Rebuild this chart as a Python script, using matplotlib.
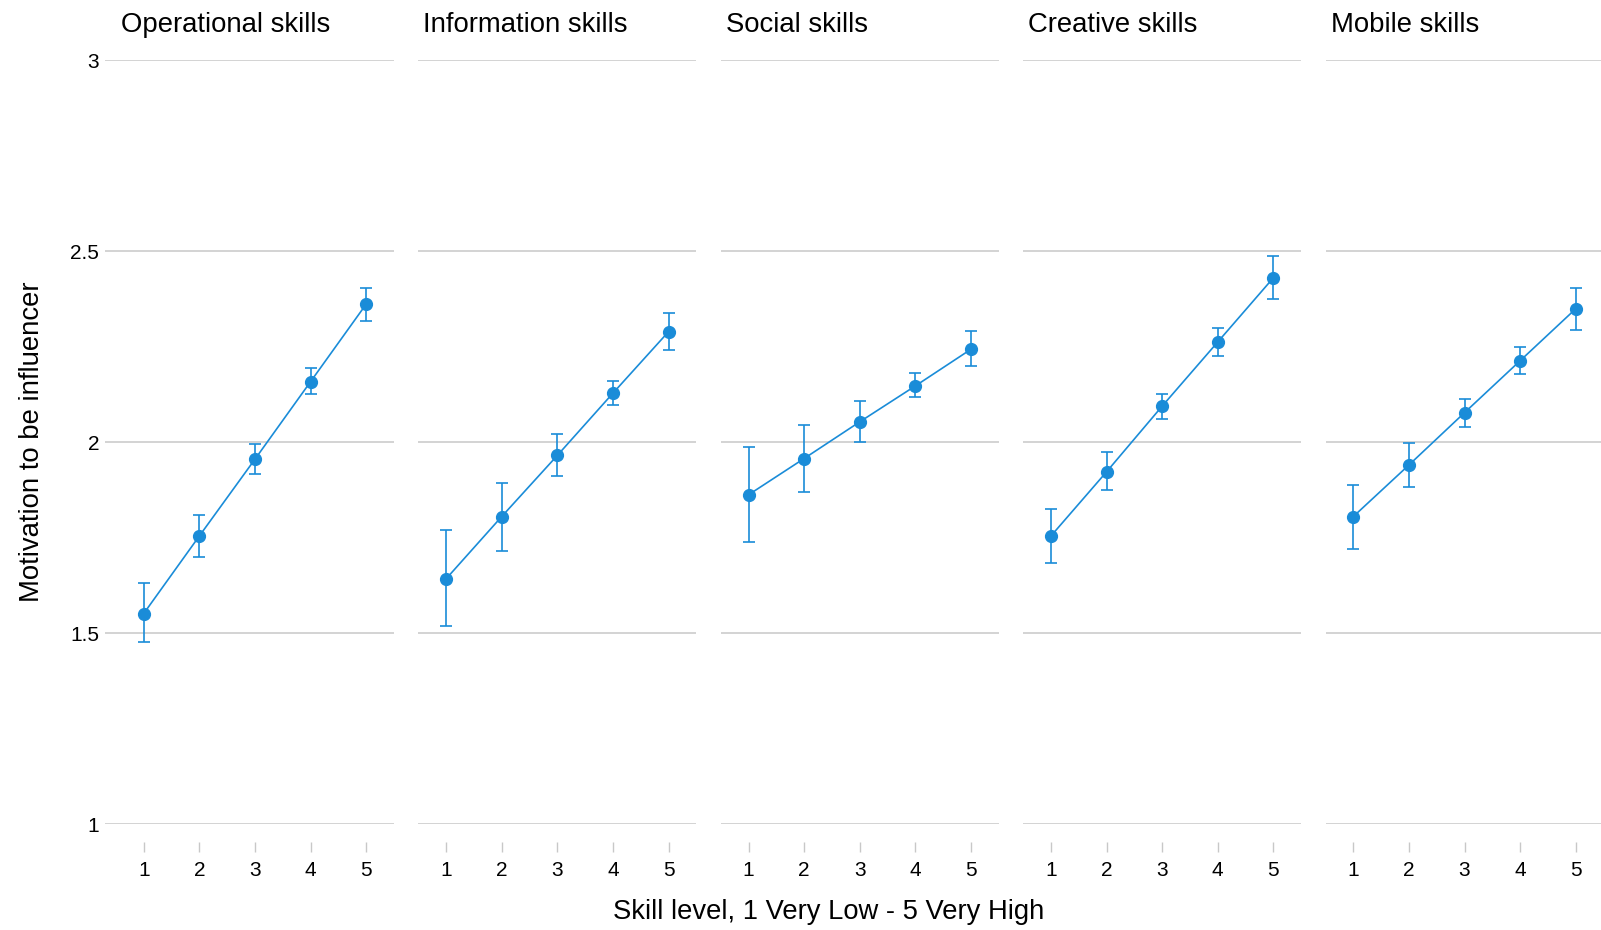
import matplotlib
matplotlib.use("Agg")
import matplotlib.pyplot as plt
import matplotlib.transforms as mtransforms

plt.rcParams['font.family'] = ['Liberation Sans', 'DejaVu Sans']

panels = ["Operational skills", "Information skills", "Social skills",
          "Creative skills", "Mobile skills"]
levels = [1, 2, 3, 4, 5]
means = [
    [1.551, 1.754, 1.955, 2.158, 2.361],
    [1.642, 1.805, 1.965, 2.128, 2.289],
    [1.862, 1.957, 2.053, 2.147, 2.243],
    [1.754, 1.922, 2.094, 2.262, 2.430],
    [1.805, 1.940, 2.077, 2.213, 2.349],
]
lower = [
    [1.476, 1.698, 1.917, 2.126, 2.316],
    [1.519, 1.714, 1.912, 2.096, 2.241],
    [1.738, 1.869, 2.000, 2.118, 2.198],
    [1.684, 1.874, 2.061, 2.225, 2.374],
    [1.721, 1.883, 2.040, 2.178, 2.294],
]
upper = [
    [1.631, 1.810, 1.995, 2.193, 2.404],
    [1.770, 1.893, 2.021, 2.160, 2.337],
    [1.986, 2.045, 2.107, 2.182, 2.291],
    [1.826, 1.973, 2.126, 2.299, 2.487],
    [1.888, 1.998, 2.114, 2.249, 2.403],
]
yticks = [1, 1.5, 2, 2.5, 3]
ytick_labels = ["1", "1.5", "2", "2.5", "3"]

W, H = 1601, 930
fig = plt.figure(figsize=(W / 100, H / 100), dpi=100)

blue = "#1a8cd8"
grid_c = "#d0d0d0"
unit = 55.6
x1_first = 143.7
period = 302.4
y_top = 60.2
y_bot = 824.0

for i, name in enumerate(panels):
    x1 = x1_first + period * i
    xmin = 0.5 if i > 0 else 0.3
    xmax = 5.5
    left_px = x1 - (1 - xmin) * unit
    width_px = (xmax - xmin) * unit
    ax = fig.add_axes([left_px / W, (H - y_bot) / H, width_px / W, (y_bot - y_top) / H])
    ax.set_xlim(xmin, xmax)
    ax.set_ylim(1, 3)
    for s in ax.spines.values():
        s.set_visible(False)
    ax.spines['bottom'].set_position(('outward', 13))
    ax.set_yticks(yticks)
    ax.yaxis.grid(True, color=grid_c, linewidth=1.3)
    ax.set_axisbelow(True)
    ax.set_xticks(levels)
    ax.set_xticklabels([str(v) for v in levels])
    ax.tick_params(axis='x', length=7.5, width=1, color="#c8c8c8", pad=6, labelsize=15)
    if i == 0:
        ax.set_yticklabels(ytick_labels)
        ax.tick_params(axis='y', length=0, pad=4, labelsize=15)
        ax.set_ylabel("Motivation to be influencer", fontsize=19.8, labelpad=18)
    else:
        ax.set_yticklabels([])
        ax.tick_params(axis='y', length=0)
    yerr = [[m - l for m, l in zip(means[i], lower[i])],
            [u - m for m, u in zip(means[i], upper[i])]]
    ax.errorbar(levels, means[i], yerr=yerr, fmt='o', color=blue, ecolor=blue,
                elinewidth=1.2, capsize=4.5, capthick=1.2, markersize=8.5,
                linestyle='-', linewidth=1.2, clip_on=False, zorder=3)
    trans = mtransforms.blended_transform_factory(ax.transData, ax.transAxes)
    ax.annotate(name, xy=(0.5, 1), xycoords=trans, xytext=(5, 28),
                textcoords='offset pixels', ha='left', va='baseline', fontsize=19.8)

fig.text(829 / W, 1 - 912 / H, "Skill level, 1 Very Low - 5 Very High",
         ha='center', va='center', fontsize=19.7)

fig.savefig("out.png", dpi=100, facecolor='white')
